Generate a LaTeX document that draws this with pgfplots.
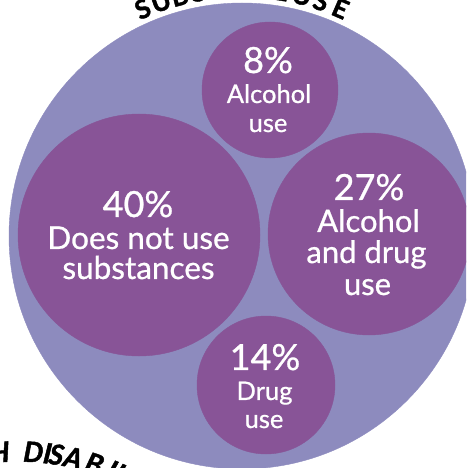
\documentclass[border=0pt]{standalone}
\usepackage{fontspec}
\setmainfont{Lato}[UprightFeatures={FakeBold=0.8}]
\newfontfamily\heavy{Lato}[BoldFeatures={FakeBold=1.6}, BoldItalicFeatures={FakeBold=1.6}]
\usepackage{pgfplots}
\usepackage{pgfplotstable}
\pgfplotsset{compat=1.18}

\definecolor{lav}{HTML}{8D8BBE}
\definecolor{purp}{HTML}{885497}

% circle centres and radii, in pixels of the 466x468 picture (y grows downwards)
\pgfplotstableread{
x   y   r
242 236 233
}\outer
\pgfplotstableread{
x   y   r
139 235 121
270 90  68
369 234 101
266 385 69
}\groups

\newcommand{\fs}[1]{\fontsize{#1}{#1}\selectfont}
\tikzset{lbl/.style={text=white, inner sep=0pt, anchor=base}}

\begin{document}
\begin{tikzpicture}
\useasboundingbox (0,0) rectangle (466pt,468pt);
\clip (0,0) rectangle (466pt,468pt);
\begin{axis}[
    at={(0,0)}, anchor=south west,
    scale only axis, width=466pt, height=468pt,
    xmin=0, xmax=466, ymin=0, ymax=468,
    y dir=reverse,
    hide axis, clip=false,
]
\addplot[scatter, only marks, mark=*,
    scatter/use mapped color={draw=lav, fill=lav},
    visualization depends on={\thisrow{r}\as\rad},
    scatter/@pre marker code/.append style={/tikz/mark size=\rad}]
    table[x=x, y=y] {\outer};
\addplot[scatter, only marks, mark=*,
    scatter/use mapped color={draw=purp, fill=purp},
    visualization depends on={\thisrow{r}\as\rad},
    scatter/@pre marker code/.append style={/tikz/mark size=\rad}]
    table[x=x, y=y] {\groups};

% label baselines
\coordinate (a1) at (axis cs:138,217);
\coordinate (a2) at (axis cs:138.5,249);
\coordinate (a3) at (axis cs:138.5,279);
\coordinate (b1) at (axis cs:268,73);
\coordinate (b2) at (axis cs:269,103);
\coordinate (b3) at (axis cs:268,132);
\coordinate (c1) at (axis cs:369,200);
\coordinate (c2) at (axis cs:368.5,232);
\coordinate (c3) at (axis cs:366.5,263);
\coordinate (c4) at (axis cs:367.5,295);
\coordinate (d1) at (axis cs:265,370);
\coordinate (d2) at (axis cs:264.5,400);
\coordinate (d3) at (axis cs:264,428);
\end{axis}

\node[lbl, font=\fs{36}] at (a1) {40\%};
\node[lbl, font=\fs{31.5}] at (a2) {Does not use};
\node[lbl, font=\fs{31.5}] at (a3) {substances};

\node[lbl, font=\fs{36}] at (b1) {8\%};
\node[lbl, font=\fs{25.5}] at (b2) {Alcohol};
\node[lbl, font=\fs{25.5}] at (b3) {use};

\node[lbl, font=\fs{36}] at (c1) {27\%};
\node[lbl, font=\fs{31}] at (c2) {Alcohol};
\node[lbl, font=\fs{31}] at (c3) {and drug};
\node[lbl, font=\fs{31}] at (c4) {use};

\node[lbl, font=\fs{36}] at (d1) {14\%};
\node[lbl, font=\fs{25.5}] at (d2) {Drug};
\node[lbl, font=\fs{25.5}] at (d3) {use};

% curved titles: letters set round circles of their own
\foreach \a/\l in {-23.6/S,-19.1/U,-14.6/B,-10.2/S,-6.3/T,-2.3/A,1.8/N,5.6/C,9.1/E,14.0/U,18.6/S,23.4/E}
  \node[rotate=-\a, inner sep=0pt, font=\heavy\fs{26}\bfseries]
    at ({242pt+248pt*sin(\a)},{232pt+248pt*cos(\a)}) {\l};
\foreach \a/\l in {-15.5/W,-11.5/I,-8.2/T,-4.2/H,3.7/D,7.0/I,9.1/S,13.1/A,18.2/B,22.5/I,25.0/L,28.0/I,30.5/T,33.5/I,36.5/E,40.5/S}
  \node[rotate=-\a, inner sep=0pt, font=\heavy\fs{28}\bfseries\itshape]
    at ({17.6pt+246pt*sin(\a)},{-229.5pt+246pt*cos(\a)}) {\l};
\end{tikzpicture}
\end{document}
